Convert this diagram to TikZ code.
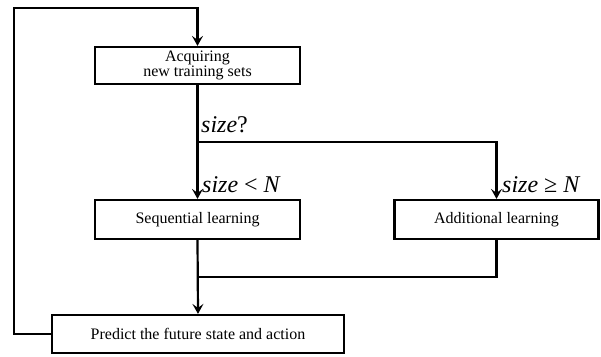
\documentclass[tikz,border=0pt]{standalone}
\usepackage{fontspec}
\setmainfont{Liberation Serif}
\usetikzlibrary{arrows.meta}

\tikzset{
  flowbox/.style={draw=black, line width=2.2pt, inner sep=0pt, align=center,
    font=\fontsize{16}{15}\selectfont},
  conn/.style={black, line width=2.2pt, >={Stealth[length=10pt,width=11pt,inset=4pt]}},
  cond/.style={anchor=base west, inner sep=0pt, font=\fontsize{24}{26}\selectfont}
}

\begin{document}
\begin{tikzpicture}[x=1pt,y=-1pt]
\useasboundingbox (0,0) rectangle (601,356);
% boxes
\node[flowbox, minimum width=205, minimum height=37] (acq) at (197.5,65.5) {Acquiring\\new training sets};
\node[flowbox, minimum width=205, minimum height=39] (seq) at (197.5,219.5) {Sequential learning};
\node[flowbox, minimum width=204, minimum height=39] (add) at (496.5,219.5) {Additional learning};
\node[flowbox, minimum width=292, minimum height=38] (pred) at (198,334) {Predict the future state and action};
% helper points
\coordinate (loop) at (14,8);
\coordinate (split) at (197.5,142);
\coordinate (join) at (197.5,277);
% connectors
\draw[conn,->] (pred.west) -| (loop) -| (acq.north);
\draw[conn,->] (acq.south) -- (seq.north);
\draw[conn,->] (split) -| (add.north);
\draw[conn,->] (seq.south) -- (pred.north);
\draw[conn] (add.south) |- (join);
% conditions
\node[cond] (qsize) at (201,132) {\textit{size}?};
\node[cond] (small) at (202,192) {\textit{size} < \textit{N}};
\node[cond] (large) at (502,192) {\textit{size} ≥ \textit{N}};
\end{tikzpicture}
\end{document}
